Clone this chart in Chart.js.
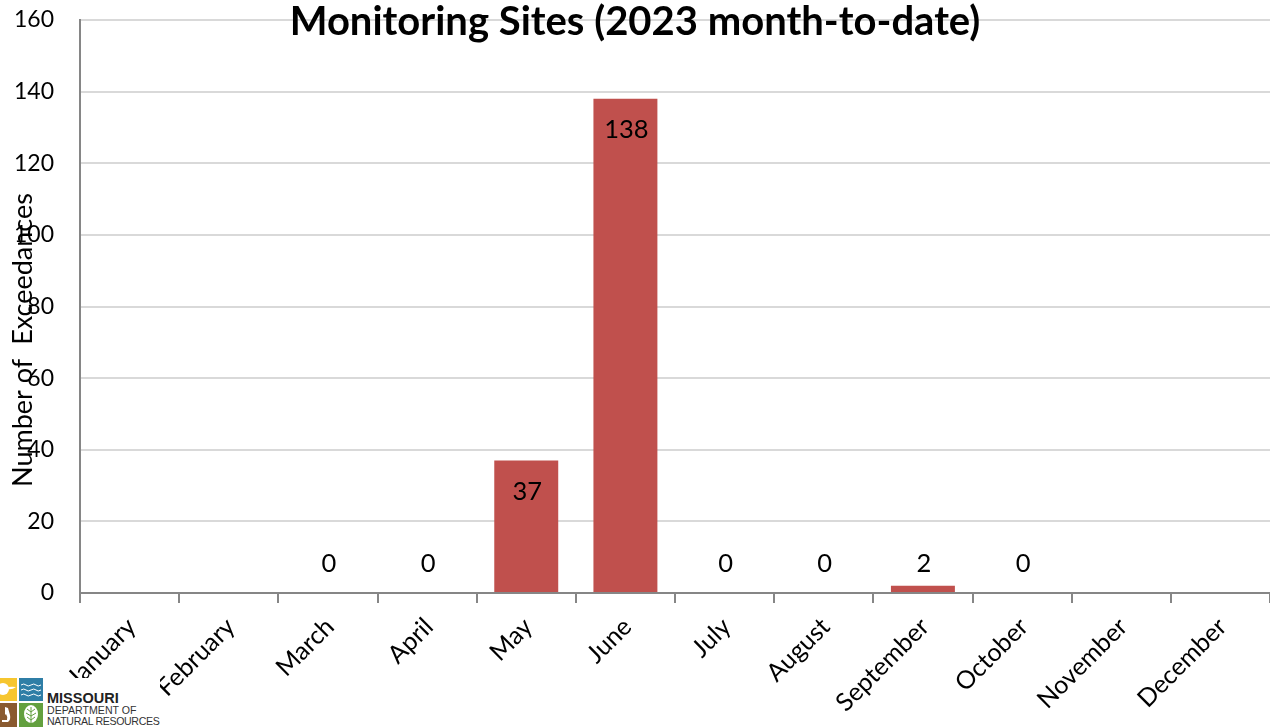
<!DOCTYPE html>
<html>
<head>
<meta charset="utf-8">
<title>Monitoring Sites</title>
<script src="https://cdn.jsdelivr.net/npm/chart.js@4"></script>
<style>
  body { margin: 0; background: #fff; overflow: hidden; }
  #wrap { position: relative; width: 1270px; height: 727px; }
  #logo { position: absolute; left: 0; top: 678px; width: 160px; height: 49px; background: #fff; overflow: hidden; }
  #logo svg { position: absolute; left: 0; top: 0; }
  #logo div { position: absolute; left: 47px; white-space: nowrap; font-family: "Liberation Sans", sans-serif; color: #333; }
  #logo .name { top: 13px; font-size: 14.5px; font-weight: bold; line-height: 15px; color: #222; }
  #logo .dept { top: 27px; font-size: 10.6px; line-height: 11px; }
  #logo .res { top: 38px; font-size: 10.6px; line-height: 11px; letter-spacing: -0.35px; }
</style>
</head>
<body>
<div id="wrap">
  <canvas id="chart" width="1270" height="727"></canvas>
  <div id="logo">
    <svg width="44" height="49" viewBox="0 0 44 49">
      <rect x="-3" y="0" width="20" height="23" fill="#f6c62f"/>
      <circle cx="3" cy="11" r="6" fill="#fff"/>
      <path d="M4 10q6-2 12-1q-5 4-12 1z" fill="#fff"/>
      <rect x="19" y="0" width="24" height="23" fill="#2f7ea6"/>
      <path d="M21 7q3-2 5 0t5 0t5 0t5 0M21 12q3-2 5 0t5 0t5 0t5 0M21 17q3-2 5 0t5 0t5 0t5 0" stroke="#fff" fill="none"/>
      <rect x="-3" y="25" width="20" height="24" fill="#8a5a2f"/>
      <path d="M5 29l3 1l2 7q1 5-2 7h-6v-2h5q1-3-1-6l-1 1z" fill="#fff"/>
      <rect x="19" y="25" width="24" height="24" fill="#63a03f"/>
      <ellipse cx="31" cy="36" rx="7" ry="9" fill="#fff"/>
      <path d="M31 29v18M31 34l-4-3M31 34l4-3M31 38l-5-3M31 38l5-3M31 42l-4-3M31 42l4-3" stroke="#63a03f" fill="none"/>
    </svg>
    <div class="name">MISSOURI</div>
    <div class="dept">DEPARTMENT OF</div>
    <div class="res">NATURAL RESOURCES</div>
  </div>
</div>
<script>
const months = ["January", "February", "March", "April", "May", "June", "July", "August", "September", "October", "November", "December"];
const exceedances = [null, null, 0, 0, 37, 138, 0, 0, 2, 0, null, null];
const chartTitle = "Monitoring Sites (2023 month-to-date)";
const yTitle = "Number of  Exceedances";

const font = "Lato, 'Open Sans', sans-serif";

// value labels: big bars get it inside, small ones sit at a fixed height above the axis
const barLabels = {
  id: "barLabels",
  afterDatasetsDraw(chart) {
    const { ctx } = chart;
    const y = chart.scales.y;
    const bars = chart.getDatasetMeta(0).data;
    ctx.save();
    ctx.font = "25.5px " + font;
    ctx.fillStyle = "#000";
    ctx.textAlign = "center";
    ctx.textBaseline = "middle";
    exceedances.forEach((v, i) => {
      if (v === null) return;
      const py = v > 10 ? y.getPixelForValue(v) + 31 : y.getPixelForValue(0) - 29;
      ctx.fillText(String(v), bars[i].x + 1, py);
    });
    ctx.restore();
  }
};

// axis title is off centre and runs over the tick labels in the original
const axisTitle = {
  id: "axisTitle",
  afterDraw(chart) {
    const { ctx } = chart;
    ctx.save();
    ctx.translate(23, 340);
    ctx.rotate(-Math.PI / 2);
    ctx.font = "27px " + font;
    ctx.fillStyle = "#000";
    ctx.textAlign = "center";
    ctx.textBaseline = "middle";
    ctx.fillText(yTitle, 0, 0);
    ctx.restore();
  }
};

// no extra room for label overhang, the plot area has to stay put
function noOverhang(scale) {
  scale.paddingTop = 0;
  scale.paddingBottom = 0;
  scale.paddingLeft = 0;
  scale.paddingRight = 0;
}

new Chart(document.getElementById("chart"), {
  type: "bar",
  data: {
    labels: months,
    datasets: [{
      data: exceedances,
      backgroundColor: "#C0504D",
      barPercentage: 1,
      categoryPercentage: 0.645
    }]
  },
  options: {
    responsive: false,
    animation: false,
    plugins: {
      legend: { display: false },
      tooltip: { enabled: false },
      title: {
        display: true,
        text: chartTitle,
        color: "#000",
        font: { family: font, size: 40, weight: "bold", lineHeight: 1.2 },
        padding: { top: -2, bottom: -26 }
      }
    },
    scales: {
      x: {
        afterFit(scale) { scale.height = 134; noOverhang(scale); },
        border: { color: "#868686", width: 2 },
        grid: { color: "#868686", lineWidth: 2, drawOnChartArea: false, drawTicks: true, tickLength: 10, offset: true },
        ticks: {
          minRotation: 45,
          maxRotation: 45,
          autoSkip: false,
          padding: 9,
          labelOffset: 2,
          color: "#000",
          font: { family: font, size: 25 }
        }
      },
      y: {
        min: 0,
        max: 160,
        afterFit(scale) { scale.width = 80; noOverhang(scale); },
        border: { color: "#868686", width: 2 },
        grid: { color: "#d9d9d9", lineWidth: 2, drawTicks: false },
        ticks: {
          stepSize: 20,
          padding: 26,
          color: "#000",
          font: { family: font, size: 23 }
        }
      }
    }
  },
  plugins: [barLabels, axisTitle]
});
</script>
</body>
</html>
